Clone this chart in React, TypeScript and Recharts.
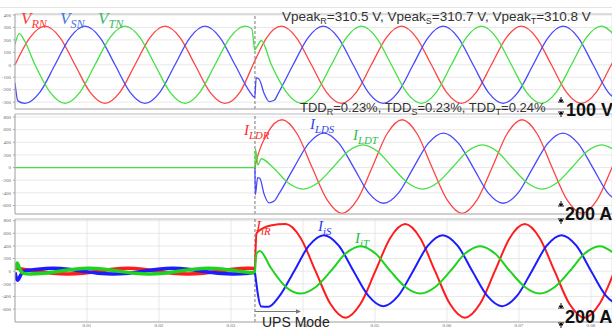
import React from 'react';
import { LineChart, Line, XAxis, YAxis, CartesianGrid, ReferenceLine } from 'recharts';

type Pt = [number, number];

// time in ms, values in V or A
const SWITCH_MS = 33.33;
const X_MAX = 82.92;
const X_TICKS = [10, 20, 30, 40, 50, 60, 70, 80];
const V_TICKS = [-300, -200, -100, 0, 100, 200, 300, 400];
const I_TICKS = [-600, -400, -200, 0, 200, 400, 600, 800];

// panel 1: grid voltages
const vRN: Pt[] = [
  [0, 0], [2.08, 219], [4.17, 310], [6.25, 219], [8.33, 0], [10.42, -219], [12.5, -310], [14.58, -219],
  [16.67, 0], [18.75, 219], [20.83, 310], [22.92, 219], [25, 0], [27.08, -219], [29.17, -310], [31.25, -219],
  [33.33, 35], [34.92, 215], [37, 310], [39.08, 219], [41.17, 0], [43.25, -219], [45.33, -310], [47.42, -219],
  [49.5, 0], [51.58, 219], [53.67, 310], [55.75, 219], [57.83, 0], [59.92, -219], [62, -310], [64.08, -219],
  [66.17, 0], [68.25, 219], [70.33, 310], [72.42, 219], [74.5, 0], [76.58, -219], [78.67, -310], [80.75, -219],
  [82.83, 0], [84.92, 219],
];
const vSN: Pt[] = [
  [0, -145], [0.4, -290], [1.39, -310], [3.47, -219], [5.56, 0], [7.64, 219], [9.72, 310], [11.81, 219],
  [13.89, 0], [15.97, -219], [18.06, -310], [20.14, -219], [22.22, 0], [24.31, 219], [26.39, 310], [28.47, 219],
  [30.56, 0], [32.64, -219], [33.3, -262], [33.5, -105], [33.9, -115], [34.6, -230], [35.3, -295], [36, -285],
  [36.6, -225], [38.63, 0], [40.72, 219], [42.8, 310], [44.88, 219], [46.97, 0], [49.05, -219], [51.13, -310],
  [53.22, -219], [55.3, 0], [57.38, 219], [59.47, 310], [61.55, 219], [63.63, 0], [65.72, -219], [67.8, -310],
  [69.88, -219], [71.97, 0], [74.05, 219], [76.13, 310], [78.22, 219], [80.3, 0], [82.38, -219], [84.47, -310],
];
const vTN: Pt[] = [
  [0, 165], [0.6, 250], [1.3, 195], [2.78, 0], [4.86, -219], [6.94, -310], [9.03, -219], [11.11, 0],
  [13.19, 219], [15.28, 310], [17.36, 219], [19.44, 0], [21.53, -219], [23.61, -310], [25.69, -219], [27.78, 0],
  [29.86, 219], [31.94, 310], [32.9, 290], [33.3, 120], [33.65, 150], [34.2, 195], [35.61, 0], [37.69, -219],
  [39.78, -310], [41.86, -219], [43.94, 0], [46.03, 219], [48.11, 310], [50.19, 219], [52.28, 0], [54.36, -219],
  [56.44, -310], [58.53, -219], [60.61, 0], [62.69, 219], [64.78, 310], [66.86, 219], [68.94, 0], [71.03, -219],
  [73.11, -310], [75.19, -219], [77.28, 0], [79.36, 219], [81.44, 310], [83.53, 219],
];

// panel 2: load currents (zero until the switch; the green trace is the one seen there)
const iLDR: Pt[] = [
  [33.33, 0], [33.5, 90], [35.02, 535], [37.1, 757], [39.18, 535], [41.27, 0], [43.35, -512],
  [45.43, -724], [47.52, -512], [49.6, 0], [51.68, 535], [53.77, 757], [55.85, 535], [57.93, 0], [60.02, -512],
  [62.1, -724], [64.18, -512], [66.27, 0], [68.35, 535], [70.43, 757], [72.52, 535], [74.6, 0], [76.68, -512],
  [78.77, -724], [80.85, -512], [82.93, 0], [85, 535],
];
const iLDS: Pt[] = [
  [33.33, 0], [33.38, -430], [33.7, -160], [34, -170], [34.6, -420], [35.3, -560], [36, -530],
  [36.7, -410], [38.75, 0], [40.82, 386], [42.9, 546], [44.98, 386], [47.05, 0], [49.12, -400], [51.2, -565],
  [53.28, -400], [55.35, 0], [57.42, 386], [59.5, 546], [61.58, 386], [63.65, 0], [65.72, -400], [67.8, -565],
  [69.88, -400], [71.95, 0], [74.02, 386], [76.1, 546], [78.18, 386], [80.25, 0], [82.32, -400], [84.4, -565],
];
const iLDT: Pt[] = [
  [0, 0], [33.33, 0], [33.4, 290], [33.75, 40], [34.2, 140], [35.85, 0], [37.93, -240], [40, -340],
  [42.08, -240], [44.15, 0], [46.23, 255], [48.3, 360], [50.38, 255], [52.45, 0], [54.53, -240], [56.6, -340],
  [58.68, -240], [60.75, 0], [62.83, 255], [64.9, 360], [66.98, 255], [69.05, 0], [71.13, -240], [73.2, -340],
  [75.28, -240], [77.35, 0], [79.43, 255], [81.5, 360], [83.58, 255],
];

// panel 3: inverter currents, before and after the switch
const iiR0: Pt[] = [
  [0, 50], [1.08, 32], [3.17, 0], [5.25, -32], [7.33, -45], [9.42, -32], [11.5, 0], [13.58, 32], [15.67, 45],
  [17.75, 32], [19.83, 0], [21.92, -32], [24, -45], [26.08, -32], [28.17, 0], [30.25, 32], [32.33, 45], [33.33, 42],
];
const iiS0: Pt[] = [
  [0, -20], [0.35, -145], [0.8, -60], [1.2, 0], [3.2, 32], [5.3, 45], [7.4, 32], [9.45, 0], [11.55, -32],
  [13.6, -45], [15.7, -32], [17.8, 0], [19.85, 32], [21.9, 45], [24, 32], [26.1, 0], [28.2, -32], [30.3, -45],
  [32.4, -32], [33.33, -15],
];
const iiT0: Pt[] = [
  [0, 20], [0.3, 130], [0.7, 20], [1.2, -35], [2, -45], [4.08, -32], [6.17, 0], [8.25, 32], [10.3, 45],
  [12.4, 32], [14.45, 0], [16.55, -32], [18.6, -45], [20.7, -32], [22.75, 0], [24.85, 32], [26.9, 45], [29, 32],
  [31.05, 0], [33.33, -30],
];
const iiR: Pt[] = [
  [33.33, 42], [33.55, 600], [34.3, 670], [35.5, 725], [37.6, 746], [39.67, 527], [41.75, 0], [43.82, -521],
  [45.9, -737], [47.97, -521], [50.05, 0], [52.12, 527], [54.2, 746], [56.27, 527], [58.35, 0], [60.42, -521],
  [62.5, -737], [64.57, -521], [66.65, 0], [68.72, 527], [70.8, 746], [72.87, 527], [74.95, 0], [77.02, -521],
  [79.1, -737], [81.17, -521], [83.25, 0],
];
const iiS: Pt[] = [
  [33.33, -15], [34.2, -560], [35.2, -565], [36.7, -400], [38.77, 0], [40.83, 404], [42.9, 571], [44.97, 404],
  [47.03, 0], [49.1, -392], [51.15, -555], [53.22, -392], [55.28, 0], [57.35, 404], [59.4, 571], [61.47, 404],
  [63.53, 0], [65.6, -392], [67.65, -555], [69.72, -392], [71.78, 0], [73.85, 404], [75.9, 571], [77.97, 404],
  [80.03, 0], [82.1, -392], [84.15, -555],
];
const iiT: Pt[] = [
  [33.33, -30], [33.55, 280], [34, 320], [35.55, 50], [37.62, -250], [39.7, -354], [41.77, -250], [43.85, 0],
  [45.92, 280], [48, 397], [50.07, 280], [52.15, 0], [54.22, -250], [56.3, -354], [58.37, -250], [60.45, 0],
  [62.52, 280], [64.6, 397], [66.67, 280], [68.75, 0], [70.82, -250], [72.9, -354], [74.97, -250], [77.05, 0],
  [79.12, 280], [81.2, 397], [83.27, 280],
];

const RED = '#ff4444';
const BLUE = '#4848ff';
const GREEN = '#44e044';
const RED2 = '#ff1c1c';
const BLUE2 = '#1c1cff';
const GREEN2 = '#1ed21e';

type Series = { pts: Pt[]; color: string; width: number };

const toRows = (pts: Pt[]) => pts.map(([t, v]) => ({ t, v }));

function Panel(props: {
  top: number;
  plotH: number;
  domain: [number, number];
  ticks: number[];
  series: Series[];
  xLabels?: boolean;
}) {
  const { top, plotH, domain, ticks, series, xLabels } = props;
  const mt = 4;
  const xh = xLabels ? 7 : 1;
  return (
    <div style={{ position: 'absolute', left: 0, top: top - mt }}>
      <LineChart width={612} height={mt + plotH + xh} margin={{ top: mt, right: 0, bottom: 0, left: 0 }}>
        <CartesianGrid stroke="#e2e2e2" strokeWidth={0.8} />
        <XAxis
          type="number"
          dataKey="t"
          domain={[0, X_MAX]}
          ticks={X_TICKS}
          allowDataOverflow
          height={xh}
          tick={xLabels ? { fontSize: 5, fill: '#666' } : false}
          tickFormatter={(v: number) => (v / 1000).toFixed(2)}
          tickLine={false}
          tickSize={0}
          tickMargin={1}
          axisLine={{ stroke: '#aaa' }}
        />
        <YAxis
          type="number"
          domain={domain}
          ticks={ticks}
          interval={0}
          allowDataOverflow
          width={15}
          tick={{ fontSize: 5, fill: '#666' }}
          tickSize={2}
          axisLine={{ stroke: '#aaa' }}
          tickLine={{ stroke: '#aaa' }}
        />
        <ReferenceLine y={domain[1]} stroke="#c8c8c8" />
        <ReferenceLine x={SWITCH_MS} stroke="#777" strokeDasharray="3 2" />
        {series.map((s, i) => (
          <Line
            key={i}
            data={toRows(s.pts)}
            dataKey="v"
            type="monotone"
            stroke={s.color}
            strokeWidth={s.width}
            dot={false}
            isAnimationActive={false}
          />
        ))}
      </LineChart>
    </div>
  );
}

function Label(props: { x: number; y: number; main: string; sub: string; color: string; size: number }) {
  const { x, y, main, sub, color, size } = props;
  return (
    <text x={x} y={y} fill={color} fontFamily="'Liberation Serif', serif" fontStyle="italic" fontSize={size}>
      {main}
      <tspan fontSize={size * 0.72} dy={size * 0.25}>{sub}</tspan>
    </text>
  );
}

function ScaleMark({ x, y1, y2 }: { x: number; y1: number; y2: number }) {
  return (
    <g fill="#111" stroke="#111" strokeWidth={1}>
      <line x1={x} y1={y1 - 5} x2={x} y2={y1} />
      <line x1={x - 3} y1={y1} x2={x + 3} y2={y1} />
      <polygon points={`${x - 2},${y1 - 2} ${x + 2},${y1 - 2} ${x},${y1}`} />
      <line x1={x - 3} y1={y2} x2={x + 3} y2={y2} />
      <line x1={x} y1={y2} x2={x} y2={y2 + 5} />
      <polygon points={`${x - 2},${y2 + 2} ${x + 2},${y2 + 2} ${x},${y2}`} />
    </g>
  );
}

export default function App() {
  const sans = "'Liberation Sans', Arial, sans-serif";
  return (
    <div style={{ position: 'absolute', left: 0, top: 0, width: 612, height: 329, background: '#fff', overflow: 'hidden' }}>
      <Panel
        top={14}
        plotH={95}
        domain={[-355, 408]}
        ticks={V_TICKS}
        series={[
          { pts: vRN, color: RED, width: 1.3 },
          { pts: vSN, color: BLUE, width: 1.3 },
          { pts: vTN, color: GREEN, width: 1.3 },
        ]}
      />
      <Panel
        top={114}
        plotH={100}
        domain={[-735, 848]}
        ticks={I_TICKS}
        series={[
          { pts: iLDR, color: RED, width: 1.3 },
          { pts: iLDS, color: BLUE, width: 1.3 },
          { pts: iLDT, color: GREEN, width: 1.3 },
        ]}
      />
      <Panel
        top={218.5}
        plotH={103}
        domain={[-805, 827]}
        ticks={I_TICKS}
        xLabels
        series={[
          { pts: iiR0, color: RED2, width: 3.5 },
          { pts: iiS0, color: BLUE2, width: 3.5 },
          { pts: iiT0, color: GREEN2, width: 3.5 },
          { pts: iiR, color: RED2, width: 2 },
          { pts: iiS, color: BLUE2, width: 2 },
          { pts: iiT, color: GREEN2, width: 2 },
        ]}
      />
      <svg width={612} height={329} style={{ position: 'absolute', left: 0, top: 0, pointerEvents: 'none' }}>
        <line x1={0} y1={7.5} x2={612} y2={7.5} stroke="#e4e4e4" strokeWidth={1} />
        <Label x={21} y={24} main="V" sub="RN" color="#ff3a3a" size={17} />
        <Label x={60} y={24} main="V" sub="SN" color="#4a78d8" size={17} />
        <Label x={98} y={24} main="V" sub="TN" color="#3cb86a" size={17} />
        <Label x={244} y={135} main="I" sub="LDR" color="#ff2a2a" size={15} />
        <Label x={310} y={129} main="I" sub="LDS" color="#2f45e6" size={15} />
        <Label x={353} y={140} main="I" sub="LDT" color="#2cc04a" size={15} />
        <Label x={256} y={231} main="I" sub="iR" color="#ff2020" size={15} />
        <Label x={318} y={231} main="I" sub="iS" color="#2a3af0" size={15} />
        <Label x={355} y={243} main="I" sub="iT" color="#22bb44" size={15} />

        <text x={282} y={21} fontFamily={sans} fontSize={13.5} fill="#333">
          Vpeak<tspan fontSize={9} dy={3}>R</tspan>
          <tspan dy={-3}>=310.5 V, Vpeak</tspan>
          <tspan fontSize={9} dy={3}>S</tspan>
          <tspan dy={-3}>=310.7 V, Vpeak</tspan>
          <tspan fontSize={9} dy={3}>T</tspan>
          <tspan dy={-3}>=310.8 V</tspan>
        </text>
        <text x={300} y={112} fontFamily={sans} fontSize={13} fill="#333">
          TDD<tspan fontSize={9} dy={3}>R</tspan>
          <tspan dy={-3}>=0.23%, TDD</tspan>
          <tspan fontSize={9} dy={3}>S</tspan>
          <tspan dy={-3}>=0.23%, TDD</tspan>
          <tspan fontSize={9} dy={3}>T</tspan>
          <tspan dy={-3}>=0.24%</tspan>
        </text>

        <ScaleMark x={561} y1={102} y2={112} />
        <text x={566} y={116} fontFamily={sans} fontWeight="bold" fontSize={18} fill="#111">100 V</text>
        <ScaleMark x={561} y1={206} y2={219} />
        <text x={565} y={219.5} fontFamily={sans} fontWeight="bold" fontSize={18} fill="#111">200 A</text>
        <ScaleMark x={561} y1={308} y2={323} />
        <text x={565} y={323} fontFamily={sans} fontWeight="bold" fontSize={18} fill="#111">200 A</text>

        <line x1={255} y1={311.5} x2={297} y2={311.5} stroke="#777" strokeWidth={1} />
        <polygon points="296,309.3 301,311.5 296,313.7" fill="#777" />
        <text x={262} y={327} fontFamily={sans} fontSize={14} fill="#222">UPS Mode</text>
      </svg>
    </div>
  );
}
